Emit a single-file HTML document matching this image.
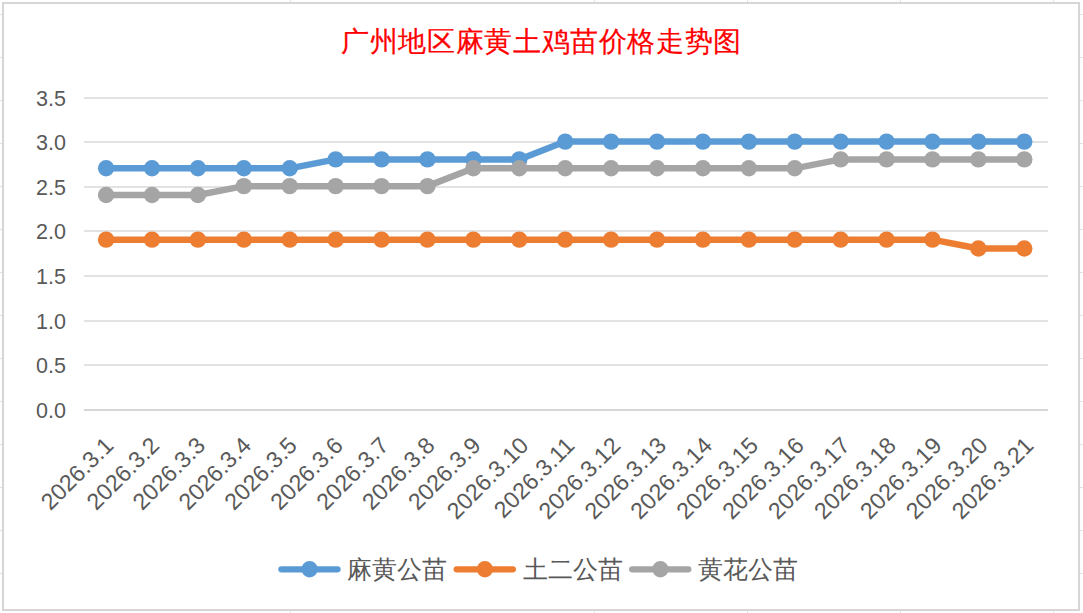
<!DOCTYPE html>
<html><head><meta charset="utf-8"><title>广州地区麻黄土鸡苗价格走势图</title>
<style>
html,body{margin:0;padding:0;background:#fff;}
svg{display:block;}
.t{font-family:"Liberation Serif",serif;font-size:28px;font-weight:normal;letter-spacing:0.63px;fill:#ff0000;stroke:#ff0000;stroke-width:0.2px;}
.ax{font-family:"Liberation Sans",sans-serif;font-size:21.5px;fill:#595959;}
.axx{font-family:"Liberation Sans",sans-serif;font-size:23.2px;letter-spacing:0.1px;fill:#595959;}
.lg{font-family:"Liberation Serif",serif;font-size:25px;font-weight:300;fill:#595959;}
</style></head>
<body>
<svg width="1083" height="613" viewBox="0 0 1083 613">
<g fill="#e1e1e1"><rect x="0" y="14" width="2" height="1"/><rect x="1080" y="14" width="3" height="1"/><rect x="0" y="57" width="2" height="1"/><rect x="1080" y="57" width="3" height="1"/><rect x="0" y="100" width="2" height="1"/><rect x="1080" y="100" width="3" height="1"/><rect x="0" y="143" width="2" height="1"/><rect x="1080" y="143" width="3" height="1"/><rect x="0" y="186" width="2" height="1"/><rect x="1080" y="186" width="3" height="1"/><rect x="0" y="229" width="2" height="1"/><rect x="1080" y="229" width="3" height="1"/><rect x="0" y="272" width="2" height="1"/><rect x="1080" y="272" width="3" height="1"/><rect x="0" y="315" width="2" height="1"/><rect x="1080" y="315" width="3" height="1"/><rect x="0" y="358" width="2" height="1"/><rect x="1080" y="358" width="3" height="1"/><rect x="0" y="401" width="2" height="1"/><rect x="1080" y="401" width="3" height="1"/><rect x="0" y="444" width="2" height="1"/><rect x="1080" y="444" width="3" height="1"/><rect x="0" y="487" width="2" height="1"/><rect x="1080" y="487" width="3" height="1"/><rect x="0" y="530" width="2" height="1"/><rect x="1080" y="530" width="3" height="1"/><rect x="0" y="573" width="2" height="1"/><rect x="1080" y="573" width="3" height="1"/><rect x="290" y="0" width="1" height="2"/><rect x="290" y="611" width="1" height="2"/><rect x="594" y="0" width="1" height="2"/><rect x="594" y="611" width="1" height="2"/><rect x="747" y="0" width="1" height="2"/><rect x="747" y="611" width="1" height="2"/><rect x="900" y="0" width="1" height="2"/><rect x="900" y="611" width="1" height="2"/><rect x="1053" y="0" width="1" height="2"/><rect x="1053" y="611" width="1" height="2"/></g>
<rect x="3" y="3" width="1076" height="607" fill="#fff" stroke="#d6d6d6" stroke-width="2"/>
<text x="541.6" y="51" text-anchor="middle" class="t">广州地区麻黄土鸡苗价格走势图</text>
<g fill="#e2e2e2"><rect x="84" y="97" width="964" height="2"/><rect x="84" y="141" width="964" height="2"/><rect x="84" y="186" width="964" height="2"/><rect x="84" y="230" width="964" height="2"/><rect x="84" y="275" width="964" height="2"/><rect x="84" y="320" width="964" height="2"/><rect x="84" y="364" width="964" height="2"/></g>
<rect x="84" y="409" width="964" height="2" fill="#d6d6d6"/>
<g class="ax" text-anchor="end"><text x="66" y="105.7">3.5</text><text x="66" y="149.7">3.0</text><text x="66" y="194.7">2.5</text><text x="66" y="238.7">2.0</text><text x="66" y="283.7">1.5</text><text x="66" y="328.7">1.0</text><text x="66" y="372.7">0.5</text><text x="66" y="417.7">0.0</text></g>
<g class="axx" text-anchor="end"><text transform="translate(114.85,446.85) rotate(-45)">2026.3.1</text><text transform="translate(160.76,446.85) rotate(-45)">2026.3.2</text><text transform="translate(206.67,446.85) rotate(-45)">2026.3.3</text><text transform="translate(252.58,446.85) rotate(-45)">2026.3.4</text><text transform="translate(298.49,446.85) rotate(-45)">2026.3.5</text><text transform="translate(344.40,446.85) rotate(-45)">2026.3.6</text><text transform="translate(390.31,446.85) rotate(-45)">2026.3.7</text><text transform="translate(436.22,446.85) rotate(-45)">2026.3.8</text><text transform="translate(482.13,446.85) rotate(-45)">2026.3.9</text><text transform="translate(530.04,446.85) rotate(-45)">2026.3.10</text><text transform="translate(575.95,446.85) rotate(-45)">2026.3.11</text><text transform="translate(621.86,446.85) rotate(-45)">2026.3.12</text><text transform="translate(667.77,446.85) rotate(-45)">2026.3.13</text><text transform="translate(713.68,446.85) rotate(-45)">2026.3.14</text><text transform="translate(759.59,446.85) rotate(-45)">2026.3.15</text><text transform="translate(805.50,446.85) rotate(-45)">2026.3.16</text><text transform="translate(851.41,446.85) rotate(-45)">2026.3.17</text><text transform="translate(897.32,446.85) rotate(-45)">2026.3.18</text><text transform="translate(943.23,446.85) rotate(-45)">2026.3.19</text><text transform="translate(989.14,446.85) rotate(-45)">2026.3.20</text><text transform="translate(1035.05,446.85) rotate(-45)">2026.3.21</text></g>
<polyline points="106.10,168.32 152.01,168.32 197.92,168.32 243.83,168.32 289.74,168.32 335.65,159.41 381.56,159.41 427.47,159.41 473.38,159.41 519.29,159.41 565.20,141.58 611.11,141.58 657.02,141.58 702.93,141.58 748.84,141.58 794.75,141.58 840.66,141.58 886.57,141.58 932.48,141.58 978.39,141.58 1024.30,141.58" fill="none" stroke="#5b9bd5" stroke-width="6.5" stroke-linejoin="round" stroke-linecap="round"/><g fill="#5b9bd5"><circle cx="106.10" cy="168.32" r="8.2"/><circle cx="152.01" cy="168.32" r="8.2"/><circle cx="197.92" cy="168.32" r="8.2"/><circle cx="243.83" cy="168.32" r="8.2"/><circle cx="289.74" cy="168.32" r="8.2"/><circle cx="335.65" cy="159.41" r="8.2"/><circle cx="381.56" cy="159.41" r="8.2"/><circle cx="427.47" cy="159.41" r="8.2"/><circle cx="473.38" cy="159.41" r="8.2"/><circle cx="519.29" cy="159.41" r="8.2"/><circle cx="565.20" cy="141.58" r="8.2"/><circle cx="611.11" cy="141.58" r="8.2"/><circle cx="657.02" cy="141.58" r="8.2"/><circle cx="702.93" cy="141.58" r="8.2"/><circle cx="748.84" cy="141.58" r="8.2"/><circle cx="794.75" cy="141.58" r="8.2"/><circle cx="840.66" cy="141.58" r="8.2"/><circle cx="886.57" cy="141.58" r="8.2"/><circle cx="932.48" cy="141.58" r="8.2"/><circle cx="978.39" cy="141.58" r="8.2"/><circle cx="1024.30" cy="141.58" r="8.2"/></g>
<polyline points="106.10,239.63 152.01,239.63 197.92,239.63 243.83,239.63 289.74,239.63 335.65,239.63 381.56,239.63 427.47,239.63 473.38,239.63 519.29,239.63 565.20,239.63 611.11,239.63 657.02,239.63 702.93,239.63 748.84,239.63 794.75,239.63 840.66,239.63 886.57,239.63 932.48,239.63 978.39,248.55 1024.30,248.55" fill="none" stroke="#ed7d31" stroke-width="6.5" stroke-linejoin="round" stroke-linecap="round"/><g fill="#ed7d31"><circle cx="106.10" cy="239.63" r="8.2"/><circle cx="152.01" cy="239.63" r="8.2"/><circle cx="197.92" cy="239.63" r="8.2"/><circle cx="243.83" cy="239.63" r="8.2"/><circle cx="289.74" cy="239.63" r="8.2"/><circle cx="335.65" cy="239.63" r="8.2"/><circle cx="381.56" cy="239.63" r="8.2"/><circle cx="427.47" cy="239.63" r="8.2"/><circle cx="473.38" cy="239.63" r="8.2"/><circle cx="519.29" cy="239.63" r="8.2"/><circle cx="565.20" cy="239.63" r="8.2"/><circle cx="611.11" cy="239.63" r="8.2"/><circle cx="657.02" cy="239.63" r="8.2"/><circle cx="702.93" cy="239.63" r="8.2"/><circle cx="748.84" cy="239.63" r="8.2"/><circle cx="794.75" cy="239.63" r="8.2"/><circle cx="840.66" cy="239.63" r="8.2"/><circle cx="886.57" cy="239.63" r="8.2"/><circle cx="932.48" cy="239.63" r="8.2"/><circle cx="978.39" cy="248.55" r="8.2"/><circle cx="1024.30" cy="248.55" r="8.2"/></g>
<polyline points="106.10,195.06 152.01,195.06 197.92,195.06 243.83,186.15 289.74,186.15 335.65,186.15 381.56,186.15 427.47,186.15 473.38,168.32 519.29,168.32 565.20,168.32 611.11,168.32 657.02,168.32 702.93,168.32 748.84,168.32 794.75,168.32 840.66,159.41 886.57,159.41 932.48,159.41 978.39,159.41 1024.30,159.41" fill="none" stroke="#a5a5a5" stroke-width="6.5" stroke-linejoin="round" stroke-linecap="round"/><g fill="#a5a5a5"><circle cx="106.10" cy="195.06" r="8.2"/><circle cx="152.01" cy="195.06" r="8.2"/><circle cx="197.92" cy="195.06" r="8.2"/><circle cx="243.83" cy="186.15" r="8.2"/><circle cx="289.74" cy="186.15" r="8.2"/><circle cx="335.65" cy="186.15" r="8.2"/><circle cx="381.56" cy="186.15" r="8.2"/><circle cx="427.47" cy="186.15" r="8.2"/><circle cx="473.38" cy="168.32" r="8.2"/><circle cx="519.29" cy="168.32" r="8.2"/><circle cx="565.20" cy="168.32" r="8.2"/><circle cx="611.11" cy="168.32" r="8.2"/><circle cx="657.02" cy="168.32" r="8.2"/><circle cx="702.93" cy="168.32" r="8.2"/><circle cx="748.84" cy="168.32" r="8.2"/><circle cx="794.75" cy="168.32" r="8.2"/><circle cx="840.66" cy="159.41" r="8.2"/><circle cx="886.57" cy="159.41" r="8.2"/><circle cx="932.48" cy="159.41" r="8.2"/><circle cx="978.39" cy="159.41" r="8.2"/><circle cx="1024.30" cy="159.41" r="8.2"/></g>
<line x1="281.4" y1="569.3" x2="337.5" y2="569.3" stroke="#5b9bd5" stroke-width="6.3" stroke-linecap="round"/><circle cx="309.6" cy="569.3" r="8.2" fill="#5b9bd5"/><text x="347.3" y="578" class="lg">麻黄公苗</text><line x1="456.7" y1="569.3" x2="512.8" y2="569.3" stroke="#ed7d31" stroke-width="6.3" stroke-linecap="round"/><circle cx="484.9" cy="569.3" r="8.2" fill="#ed7d31"/><text x="522.6" y="578" class="lg">土二公苗</text><line x1="632.2" y1="569.3" x2="688.3" y2="569.3" stroke="#a5a5a5" stroke-width="6.3" stroke-linecap="round"/><circle cx="660.4" cy="569.3" r="8.2" fill="#a5a5a5"/><text x="698.1" y="578" class="lg">黄花公苗</text>
</svg>
</body></html>
